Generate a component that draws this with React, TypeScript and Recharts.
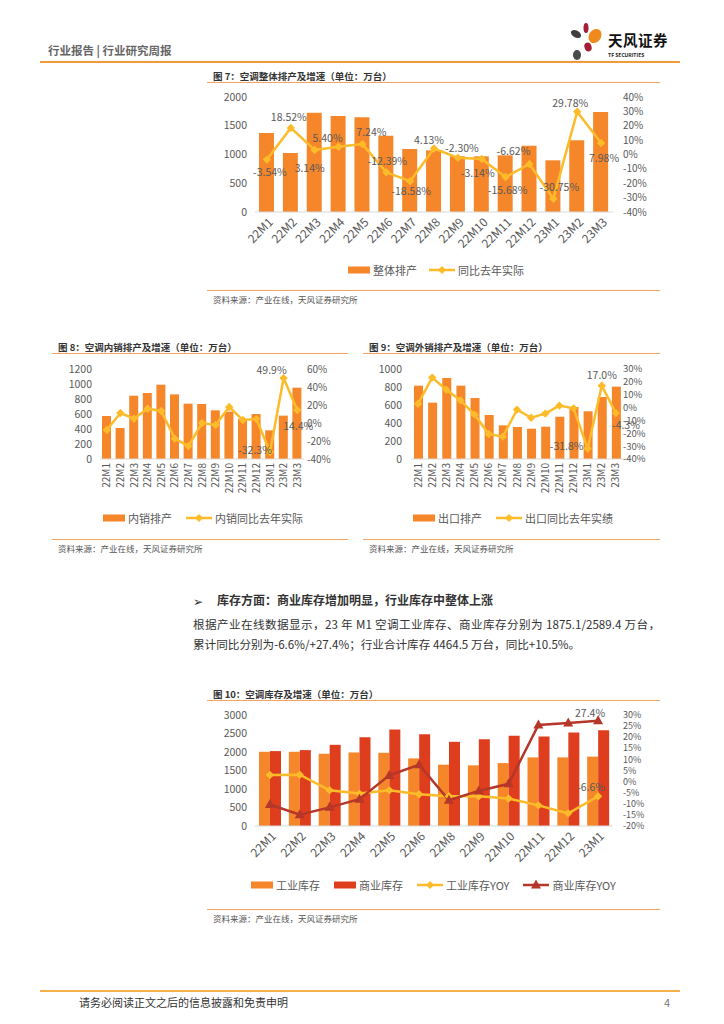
import React from 'react';
import { ComposedChart, Bar, Line, XAxis, YAxis } from 'recharts';

// 图7 空调整体排产
const months = ['22M1', '22M2', '22M3', '22M4', '22M5', '22M6', '22M7', '22M8', '22M9', '22M10', '22M11', '22M12', '23M1', '23M2', '23M3'];
const totalOutput = [1374, 1026, 1727, 1670, 1646, 1328, 1096, 1072, 968, 968, 985, 1154, 899, 1246, 1739];
const totalYoy = [-3.54, 18.52, 3.14, 5.4, 7.24, -12.39, -18.58, 4.13, -2.3, -3.14, -15.68, -6.62, -30.75, 29.78, 7.98];

// 图8 内销
const domesticOutput = [573, 413, 844, 880, 991, 862, 738, 733, 649, 631, 533, 600, 382, 578, 951];
const domesticYoy = [-7.8, 11.1, 4.8, 15.9, 13.3, -17.4, -25.6, 0, -2.2, 17.8, 3.3, 4.4, -32.3, 49.9, 14.4];

// 图9 出口
const exportOutput = [815, 626, 900, 815, 678, 489, 374, 356, 337, 359, 470, 578, 530, 689, 804];
const exportYoy = [3.0, 23.3, 13.9, 5.6, -5.5, -20.6, -22.6, -1.6, -7.9, -4.7, 1.5, -0.6, -31.8, 17.0, -4.3];

// 图10 库存
const stockMonths = ['22M1', '22M2', '22M3', '22M4', '22M5', '22M6', '22M8', '22M9', '22M10', '22M11', '22M12', '23M1'];
const industryStock = [2006, 2006, 1952, 1988, 1979, 1827, 1657, 1639, 1701, 1854, 1854, 1875];
const commerceStock = [2024, 2051, 2194, 2400, 2606, 2481, 2275, 2346, 2436, 2418, 2525, 2589];
const industryYoy = [3.0, 3.1, -3.9, -5.4, -3.9, -5.7, -6.6, -6.6, -7.6, -10.7, -14.3, -6.6];
const commerceYoy = [-10.3, -14.9, -11.6, -7.9, 2.8, 7.6, -8.4, -4.2, -1.0, 25.5, 26.4, 27.4];

// 数据标签偏移 (null = 不标)
const totalLabelOff: ([number, number] | null)[] = [
  [3, 12], [-2, -11], [-5, 18], [-11, -9], [9, -13], [1, -12], [1, 9], [-5, -9],
  [4, -10], [-4, 13], [2, 12], [-16, -14], [6, -12], [-7, -9], [3, 14],
];
const domesticLabelOff: ([number, number] | null)[] = [
  null, null, null, null, null, null, null, null, null, null, null, null, [-15, -3], [-12, -9], [1, 15],
];
const exportLabelOff: ([number, number] | null)[] = [
  null, null, null, null, null, null, null, null, null, null, null, null, [-21, -3], [0, -11], [10, 11],
];
const industryLabelOff: ([number, number] | null)[] = [null, null, null, null, null, null, null, null, null, null, null, [-7, -10]];
const commerceLabelOff: ([number, number] | null)[] = [null, null, null, null, null, null, null, null, null, null, null, [-8, -8]];

const ORANGE = '#F5862A';
const RED = '#DE3D1E';
const YELLOW = '#FDBB2A';
const DARKRED = '#B5372A';
const TXT = '#595959';
const FONT = '"Noto Sans CJK SC", "Noto Sans", sans-serif';

const makeDot = (shape: 'diamond' | 'triangle', color: string, key: string, offs: ([number, number] | null)[], decimals: number) =>
  (props: any) => {
    const { cx, cy, index, payload } = props;
    const v = payload[key] as number;
    const off = offs[index];
    const s = 4.2;
    const d = shape === 'diamond'
      ? `M${cx},${cy - s} L${cx + s},${cy} L${cx},${cy + s} L${cx - s},${cy} Z`
      : `M${cx},${cy - 5.5} L${cx + 5},${cy + 3.5} L${cx - 5},${cy + 3.5} Z`;
    return (
      <g key={`${key}-${index}`}>
        <path d={d} fill={color} />
        {off && (
          <text x={cx + off[0]} y={cy + off[1]} textAnchor="middle" dominantBaseline="central" fontSize={10.5} fill={TXT}>
            {v.toFixed(decimals)}%
          </text>
        )}
      </g>
    );
  };

const rotTick = (angle: number, dx: number, dy: number, fontSize: number) => (p: any) => (
  <g transform={`translate(${p.x + dx},${p.y + dy})`}>
    <text textAnchor="end" transform={`rotate(${angle})`} dy="0.35em" fill={TXT} fontSize={fontSize}>
      {p.payload.value}
    </text>
  </g>
);

const pct = (v: number) => `${v}%`;

type LegendItem = { kind: 'bar' | 'diamond' | 'triangle'; color: string; label: string };

const LegendRow = ({ left, top, items, gap }: { left: number; top: number; items: LegendItem[]; gap: number }) => (
  <div style={{ position: 'absolute', left, top, display: 'flex', alignItems: 'center', gap, fontSize: 11, color: TXT, whiteSpace: 'nowrap' }}>
    {items.map((it) => (
      <div key={it.label} style={{ display: 'flex', alignItems: 'center', gap: 3 }}>
        <svg width={it.kind === 'bar' ? 22 : 26} height={12}>
          {it.kind === 'bar' ? (
            <rect x={0} y={2.5} width={22} height={7} fill={it.color} />
          ) : (
            <>
              <line x1={0} y1={6} x2={26} y2={6} stroke={it.color} strokeWidth={2.5} />
              {it.kind === 'diamond' ? (
                <path d="M13,2 L17,6 L13,10 L9,6 Z" fill={it.color} />
              ) : (
                <path d="M13,0.5 L18,9.5 L8,9.5 Z" fill={it.color} />
              )}
            </>
          )}
        </svg>
        <span>{it.label}</span>
      </div>
    ))}
  </div>
);

const Title = ({ left, top, width, text }: { left: number; top: number; width: number; text: string }) => (
  <>
    <div style={{ position: 'absolute', left: left + 6, top, fontSize: 9.5, fontWeight: 700, color: '#333', whiteSpace: 'nowrap' }}>{text}</div>
    <div style={{ position: 'absolute', left, top: top + 13, width, height: 1, background: '#F4A460' }} />
  </>
);

const Source = ({ left, top, width }: { left: number; top: number; width: number }) => (
  <>
    <div style={{ position: 'absolute', left, top, width, height: 1, background: '#F4A460' }} />
    <div style={{ position: 'absolute', left: left + 6, top: top + 3, fontSize: 8.5, color: '#555', whiteSpace: 'nowrap' }}>
      资料来源：产业在线，天风证券研究所
    </div>
  </>
);

type ComboProps = {
  left: number; top: number; width: number; height: number;
  cats: string[]; bars: number[]; yoy: number[];
  leftTicks: number[]; rightTicks: number[];
  yLeftW: number; yRightW: number; mTop: number; mRight: number;
  leftMargin: number; rightSize: number; rightMargin: number; rightFont: number;
  barSize: number; xH: number; tick: (p: any) => any;
  offs: ([number, number] | null)[]; decimals: number;
};

const Combo = (c: ComboProps) => {
  const data = c.cats.map((m, i) => ({ m, bar: c.bars[i], yoy: c.yoy[i] }));
  return (
    <div style={{ position: 'absolute', left: c.left, top: c.top }}>
      <ComposedChart width={c.width} height={c.height} data={data} margin={{ top: c.mTop, right: c.mRight, bottom: 2, left: 0 }}>
        <XAxis dataKey="m" interval={0} height={c.xH} tickSize={0} tickMargin={0} tickLine={false}
          axisLine={{ stroke: '#D9D9D9' }} tick={c.tick} />
        <YAxis yAxisId="l" width={c.yLeftW} domain={[c.leftTicks[0], c.leftTicks[c.leftTicks.length - 1]]}
          ticks={c.leftTicks} interval={0} axisLine={false} tickLine={false} tickMargin={c.leftMargin}
          tick={{ fill: TXT, fontSize: 10.5 }} />
        <YAxis yAxisId="r" orientation="right" width={c.yRightW} domain={[c.rightTicks[0], c.rightTicks[c.rightTicks.length - 1]]}
          ticks={c.rightTicks} interval={0} axisLine={false} tickLine={false} tickSize={c.rightSize} tickMargin={c.rightMargin}
          tickFormatter={pct} tick={{ fill: TXT, fontSize: c.rightFont }} />
        <Bar yAxisId="l" dataKey="bar" fill={ORANGE} barSize={c.barSize} isAnimationActive={false} />
        <Line yAxisId="r" dataKey="yoy" stroke={YELLOW} strokeWidth={2.5} isAnimationActive={false}
          dot={makeDot('diamond', YELLOW, 'yoy', c.offs, c.decimals)} activeDot={false} />
      </ComposedChart>
    </div>
  );
};

const StockChart = () => {
  const data = stockMonths.map((m, i) => ({
    m, ind: industryStock[i], com: commerceStock[i], indY: industryYoy[i], comY: commerceYoy[i],
  }));
  return (
    <div style={{ position: 'absolute', left: 207, top: 705 }}>
      <ComposedChart width={453} height={175} data={data} margin={{ top: 10, right: 7, bottom: 2, left: 0 }} barGap={0}>
        <XAxis dataKey="m" interval={0} height={52} tickSize={0} tickMargin={0} tickLine={false}
          axisLine={{ stroke: '#D9D9D9' }} tick={rotTick(-45, 4, 8, 12)} />
        <YAxis yAxisId="l" width={48} domain={[0, 3000]} ticks={[0, 500, 1000, 1500, 2000, 2500, 3000]} interval={0}
          axisLine={false} tickLine={false} tick={{ fill: TXT, fontSize: 10.5 }} />
        <YAxis yAxisId="r" orientation="right" width={40} domain={[-20, 30]} interval={0}
          ticks={[-20, -15, -10, -5, 0, 5, 10, 15, 20, 25, 30]} axisLine={false} tickLine={false} tickMargin={4}
          tickFormatter={pct} tick={{ fill: TXT, fontSize: 9 }} />
        <Bar yAxisId="l" dataKey="ind" fill={ORANGE} barSize={11} isAnimationActive={false} />
        <Bar yAxisId="l" dataKey="com" fill={RED} barSize={11} isAnimationActive={false} />
        <Line yAxisId="r" dataKey="indY" stroke={YELLOW} strokeWidth={2.5} isAnimationActive={false}
          dot={makeDot('diamond', YELLOW, 'indY', industryLabelOff, 1)} activeDot={false} />
        <Line yAxisId="r" dataKey="comY" stroke={DARKRED} strokeWidth={2.5} isAnimationActive={false}
          dot={makeDot('triangle', DARKRED, 'comY', commerceLabelOff, 1)} activeDot={false} />
      </ComposedChart>
    </div>
  );
};

const Logo = () => (
  <div style={{ position: 'absolute', left: 566, top: 18 }}>
    <svg width={44} height={46}>
      <ellipse cx={20} cy={10} rx={2.5} ry={5} fill="#A51E36" />
      <ellipse cx={10} cy={16} rx={5.5} ry={3.5} fill="#3F3F3F" transform="rotate(30 10 16)" />
      <ellipse cx={29} cy={18} rx={6} ry={7.5} fill="#F08A1C" transform="rotate(35 29 18)" />
      <ellipse cx={22} cy={29} rx={3.5} ry={4.5} fill="#A51E36" transform="rotate(-20 22 29)" />
      <ellipse cx={11} cy={37} rx={4} ry={5} fill="#4A4A4A" />
    </svg>
    <div style={{ position: 'absolute', left: 42, top: 11, fontSize: 14.5, fontWeight: 700, color: '#111', whiteSpace: 'nowrap', letterSpacing: 0.5 }}>天风证券</div>
    <div style={{ position: 'absolute', left: 42, top: 33, fontSize: 5, fontWeight: 700, color: '#222', whiteSpace: 'nowrap' }}>TF SECURITIES</div>
  </div>
);

export default function App() {
  return (
    <div style={{ position: 'absolute', left: 0, top: 0, width: 724, height: 1024, background: '#fff', fontFamily: FONT, overflow: 'hidden' }}>
      {/* 页眉 */}
      <div style={{ position: 'absolute', left: 48, top: 42, fontSize: 11.5, fontWeight: 700, color: '#666', whiteSpace: 'nowrap' }}>
        行业报告 | 行业研究周报
      </div>
      <Logo />
      <div style={{ position: 'absolute', left: 40, top: 61, width: 640, height: 2, background: '#F29A3A' }} />

      {/* 图7 */}
      <Title left={207} top={69} width={453} text="图 7：空调整体排产及增速（单位：万台）" />
      <Combo left={207} top={86} width={453} height={180} cats={months} bars={totalOutput} yoy={totalYoy}
        leftTicks={[0, 500, 1000, 1500, 2000]} rightTicks={[-40, -30, -20, -10, 0, 10, 20, 30, 40]}
        yLeftW={48} yRightW={40} mTop={11} mRight={7} leftMargin={2} rightSize={6} rightMargin={4} rightFont={10}
        barSize={15} xH={52} tick={rotTick(-45, 4, 8, 12)} offs={totalLabelOff} decimals={2} />
      <LegendRow left={348} top={262} gap={12} items={[
        { kind: 'bar', color: ORANGE, label: '整体排产' },
        { kind: 'diamond', color: YELLOW, label: '同比去年实际' },
      ]} />
      <Source left={207} top={290} width={453} />

      {/* 图8 */}
      <Title left={52} top={340} width={296} text="图 8：空调内销排产及增速（单位：万台）" />
      <Combo left={40} top={357} width={320} height={146} cats={months} bars={domesticOutput} yoy={domesticYoy}
        leftTicks={[0, 200, 400, 600, 800, 1000, 1200]} rightTicks={[-40, -20, 0, 20, 40, 60]}
        yLeftW={60} yRightW={50} mTop={12} mRight={6} leftMargin={2} rightSize={0} rightMargin={3} rightFont={10}
        barSize={9} xH={42} tick={rotTick(-90, 0, 4, 10)} offs={domesticLabelOff} decimals={1} />
      <LegendRow left={103} top={510} gap={14} items={[
        { kind: 'bar', color: ORANGE, label: '内销排产' },
        { kind: 'diamond', color: YELLOW, label: '内销同比去年实际' },
      ]} />
      <Source left={52} top={539} width={296} />

      {/* 图9 */}
      <Title left={363} top={340} width={297} text="图 9：空调外销排产及增速（单位：万台）" />
      <Combo left={360} top={357} width={310} height={146} cats={months} bars={exportOutput} yoy={exportYoy}
        leftTicks={[0, 200, 400, 600, 800, 1000]} rightTicks={[-40, -30, -20, -10, 0, 10, 20, 30]}
        yLeftW={51} yRightW={42} mTop={12} mRight={5} leftMargin={3} rightSize={0} rightMargin={0} rightFont={9.5}
        barSize={9} xH={42} tick={rotTick(-90, 0, 4, 10)} offs={exportLabelOff} decimals={1} />
      <LegendRow left={413} top={510} gap={14} items={[
        { kind: 'bar', color: ORANGE, label: '出口排产' },
        { kind: 'diamond', color: YELLOW, label: '出口同比去年实绩' },
      ]} />
      <Source left={363} top={539} width={297} />

      {/* 正文 */}
      <div style={{ position: 'absolute', left: 193, top: 592, fontSize: 12, color: '#333' }}>➢</div>
      <div style={{ position: 'absolute', left: 217, top: 591, fontSize: 12, fontWeight: 700, color: '#333', whiteSpace: 'nowrap' }}>
        库存方面：商业库存增加明显，行业库存中整体上涨
      </div>
      <div style={{ position: 'absolute', left: 193, top: 616, width: 467, fontSize: 11.6, color: '#333', textAlign: 'justify', textAlignLast: 'justify', whiteSpace: 'nowrap' }}>
        根据产业在线数据显示，23 年 M1 空调工业库存、商业库存分别为 1875.1/2589.4 万台，
      </div>
      <div style={{ position: 'absolute', left: 193, top: 636, fontSize: 11.6, color: '#333', whiteSpace: 'nowrap' }}>
        累计同比分别为-6.6%/+27.4%；行业合计库存 4464.5 万台，同比+10.5%。
      </div>

      {/* 图10 */}
      <Title left={207} top={687} width={453} text="图 10：空调库存及增速（单位：万台）" />
      <StockChart />
      <LegendRow left={251} top={877} gap={14} items={[
        { kind: 'bar', color: ORANGE, label: '工业库存' },
        { kind: 'bar', color: RED, label: '商业库存' },
        { kind: 'diamond', color: YELLOW, label: '工业库存YOY' },
        { kind: 'triangle', color: DARKRED, label: '商业库存YOY' },
      ]} />
      <Source left={207} top={909} width={453} />

      {/* 页脚 */}
      <div style={{ position: 'absolute', left: 40, top: 990, width: 640, height: 2, background: '#F5B24A' }} />
      <div style={{ position: 'absolute', left: 79, top: 994, fontSize: 11, color: '#333', whiteSpace: 'nowrap' }}>
        请务必阅读正文之后的信息披露和免责申明
      </div>
      <div style={{ position: 'absolute', left: 664, top: 994, fontSize: 11, color: '#777' }}>4</div>
    </div>
  );
}
